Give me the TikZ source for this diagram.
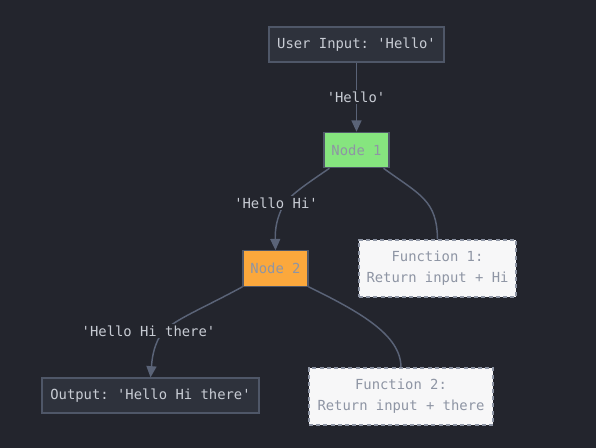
\documentclass[tikz,border=0pt]{standalone}
\usepackage{fontspec}
\setmonofont{DejaVu Sans Mono}
\usetikzlibrary{arrows.meta}

\definecolor{bgdark}{HTML}{23252D}
\definecolor{boxdark}{HTML}{2E323C}
\definecolor{boxline}{HTML}{4F5768}
\definecolor{edgeline}{HTML}{5A6377}
\definecolor{lighttext}{HTML}{C8CCD4}
\definecolor{greytext}{HTML}{8E95A4}
\definecolor{nodegreen}{HTML}{86E57F}
\definecolor{nodeorange}{HTML}{FBA83C}
\definecolor{funcfill}{HTML}{F7F7F8}

\begin{document}
\begin{tikzpicture}[
    x=0.75pt, y=-0.75pt,
    every node/.style={font=\ttfamily\fontsize{10.4}{15.75}\selectfont, inner sep=0pt},
    iobox/.style={draw=boxline, fill=boxdark, text=lighttext, minimum height=26.25pt, line width=0.8pt},
    stepbox/.style={draw=boxline, text=greytext, minimum width=48.75pt, minimum height=26.6pt, line width=0.8pt},
    funcbox/.style={draw=greytext, fill=funcfill, text=greytext, dash pattern=on 3pt off 2.4pt, align=center, minimum height=42.75pt, line width=0.8pt},
    edgelabel/.style={fill=bgdark, text=lighttext, inner sep=1.5pt},
    edge/.style={draw=edgeline, line width=1.1pt},
    >={Triangle[length=8.5pt, width=7.5pt]}
]

% background
\fill[bgdark] (0,0) rectangle (596,448);
\useasboundingbox (0,0) rectangle (596,448);

% Input and output
\node[iobox, minimum width=131.25pt] (input) at (356.5,44.5) {User Input: 'Hello'};
\node[iobox, minimum width=162.75pt] (output) at (150.5,395.5) {Output: 'Hello Hi there'};

% Processing nodes
\node[stepbox, fill=nodegreen] (node1) at (356.5,150) {Node 1};
\node[stepbox, fill=nodeorange] (node2) at (275.5,268.5) {Node 2};

% Functions
\node[funcbox, minimum width=117.75pt] (func1) at (437.5,268.5) {Function 1:\\Return input + Hi};
\node[funcbox, minimum width=138pt] (func2) at (401,396.5) {Function 2:\\Return input + there};

% Edges
\draw[edge, ->] (input.south) -- (node1.north);
\draw[edge, ->] (node1.south west) ++(6,0) .. controls (305,185) and (290,195) .. (283,206)
    .. controls (277,218) and (275,228) .. (node2.north);
\draw[edge] (node1.south east) ++(-6,0) .. controls (420,195) and (437,200) .. (func1.north);
\draw[edge, ->] (node2.south west) .. controls (200,310) and (168,322) .. (160,336)
    .. controls (153,348) and (152,360) .. (output.north);
\draw[edge] (node2.south east) .. controls (360,312) and (401,335) .. (func2.north);

% Edge labels
\node[edgelabel] (lbl1) at (356,97) {'Hello'};
\node[edgelabel] (lbl2) at (276,203) {'Hello Hi'};
\node[edgelabel] (lbl3) at (148.5,331) {'Hello Hi there'};

\end{tikzpicture}
\end{document}
